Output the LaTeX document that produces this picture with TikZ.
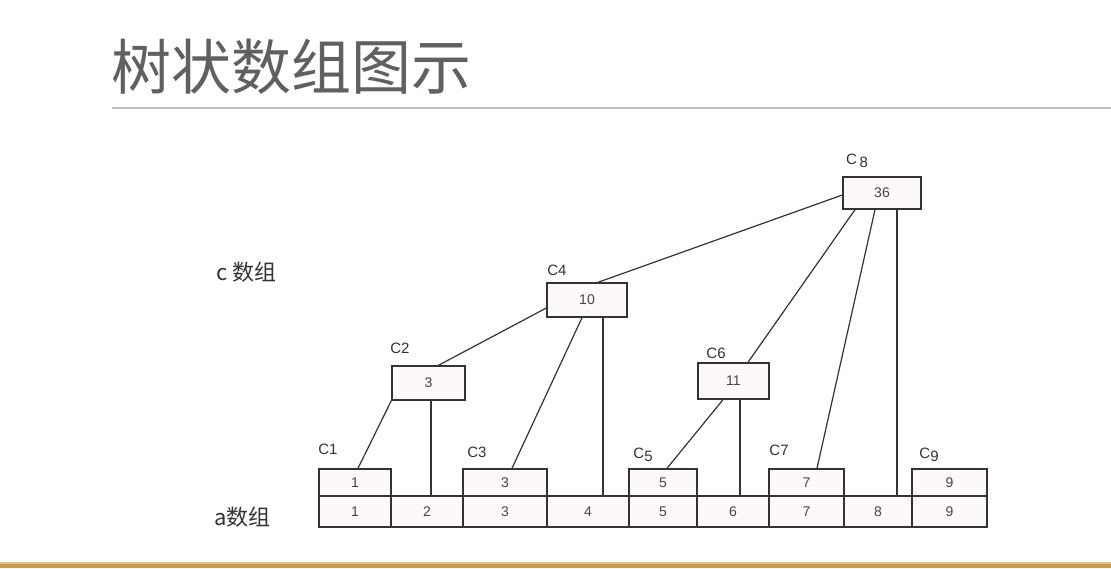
\documentclass[tikz,border=0pt]{standalone}
\usepackage{fontspec}
\setmainfont{Liberation Sans}
\newfontfamily\cjk{Noto Sans CJK SC}
\usetikzlibrary{calc}
\definecolor{ink}{HTML}{333333}
\definecolor{txt}{HTML}{444444}
\definecolor{boxfill}{HTML}{FDF8FB}
\definecolor{titlegray}{HTML}{606060}
\definecolor{rulegray}{HTML}{BDBDBD}
\definecolor{gold}{HTML}{CF9A45}
\tikzset{
  box/.style={draw=ink, line width=1.4pt, fill=boxfill, inner sep=0pt, text=txt, font=\fontsize{14}{14}\selectfont},
  conn/.style={draw=ink, line width=1.2pt},
  clabel/.style={text=ink, font=\fontsize{15}{15}\selectfont, inner sep=0pt},
  arrlabel/.style={text=ink, font=\cjk\fontsize{22}{22}\selectfont, inner sep=0pt, anchor=west}
}
\newcommand{\lowd}[1]{\raisebox{-3pt}{#1}}
\begin{document}
\begin{tikzpicture}[x=1pt,y=-1pt]
\useasboundingbox[fill=white] (0,0) rectangle (1111,568);
% title
\node[text=titlegray, font=\cjk\fontsize{60}{60}\selectfont, anchor=west, inner sep=0pt] (title) at (111,67) {树状数组图示};
\fill[rulegray] (112,106.5) rectangle (1111,108.5);
\fill[gold!60!white] (0,562) rectangle (1111,564);
\fill[gold] (0,564) rectangle (1111,568);
% side labels
\node[arrlabel] (clab) at (216,272) {c 数组};
\node[arrlabel] (alab) at (214,517) {a数组};
% a array
\node[box, minimum width=72, minimum height=31] (a1) at (355,511.5) {1};
\node[box, minimum width=72, minimum height=31] (a2) at (427,511.5) {2};
\node[box, minimum width=84, minimum height=31] (a3) at (505,511.5) {3};
\node[box, minimum width=82, minimum height=31] (a4) at (588,511.5) {4};
\node[box, minimum width=68, minimum height=31] (a5) at (663,511.5) {5};
\node[box, minimum width=72, minimum height=31] (a6) at (733,511.5) {6};
\node[box, minimum width=75, minimum height=31] (a7) at (806.5,511.5) {7};
\node[box, minimum width=68, minimum height=31] (a8) at (878,511.5) {8};
\node[box, minimum width=75, minimum height=31] (a9) at (949.5,511.5) {9};
% c array bottom level
\node[box, minimum width=72, minimum height=27] (c1) at (355,482.5) {1};
\node[box, minimum width=84, minimum height=27] (c3) at (505,482.5) {3};
\node[box, minimum width=68, minimum height=27] (c5) at (663,482.5) {5};
\node[box, minimum width=75, minimum height=27] (c7) at (806.5,482.5) {7};
\node[box, minimum width=75, minimum height=27] (c9) at (949.5,482.5) {9};
% upper levels
\node[box, minimum width=73, minimum height=34] (c2) at (428.5,383) {3};
\node[box, minimum width=80, minimum height=34] (c4) at (587,300) {10};
\node[box, minimum width=71, minimum height=36] (c6) at (733.5,381) {11};
\node[box, minimum width=78, minimum height=32] (c8) at (882,193) {36};
% labels
\node[clabel] (l1) at (328,449) {C1};
\node[clabel] (l2) at (400,348) {C2};
\node[clabel] (l3) at (477,452) {C3};
\node[clabel] (l4) at (557,270) {C4};
\node[clabel] (l5) at (643,455) {C\lowd{5}};
\node[clabel] (l6) at (716,353) {C6};
\node[clabel] (l7) at (779,450) {C7};
\node[clabel] (l8) at (857,161) {C\,\lowd{8}};
\node[clabel] (l9) at (929,455) {C\lowd{9}};
% connectors
\draw[conn] ([yshift=-2pt]c8.west) -- ([xshift=11pt]c4.north);
\draw[conn] ([yshift=-8pt]c4.west) -- ([xshift=10pt]c2.north);
\draw[conn] ([xshift=-5pt]c4.south) -- ([xshift=7pt]c3.north);
\draw[conn] ([xshift=16pt]c4.south) -- ([xshift=15pt]a4.north);
\draw[conn] (c2.south west) -- ([xshift=3pt]c1.north);
\draw[conn] ([xshift=2.5pt]c2.south) -- ([xshift=4pt]a2.north);
\draw[conn] ([xshift=-27pt]c8.south) -- ([xshift=14.5pt]c6.north);
\draw[conn] ([xshift=-7pt]c8.south) -- ([xshift=10.5pt]c7.north);
\draw[conn] ([xshift=15pt]c8.south) -- ([xshift=19pt]a8.north);
\draw[conn] ([xshift=-10.5pt]c6.south) -- ([xshift=4pt]c5.north);
\draw[conn] ([xshift=6.5pt]c6.south) -- ([xshift=7pt]a6.north);
\end{tikzpicture}
\end{document}
